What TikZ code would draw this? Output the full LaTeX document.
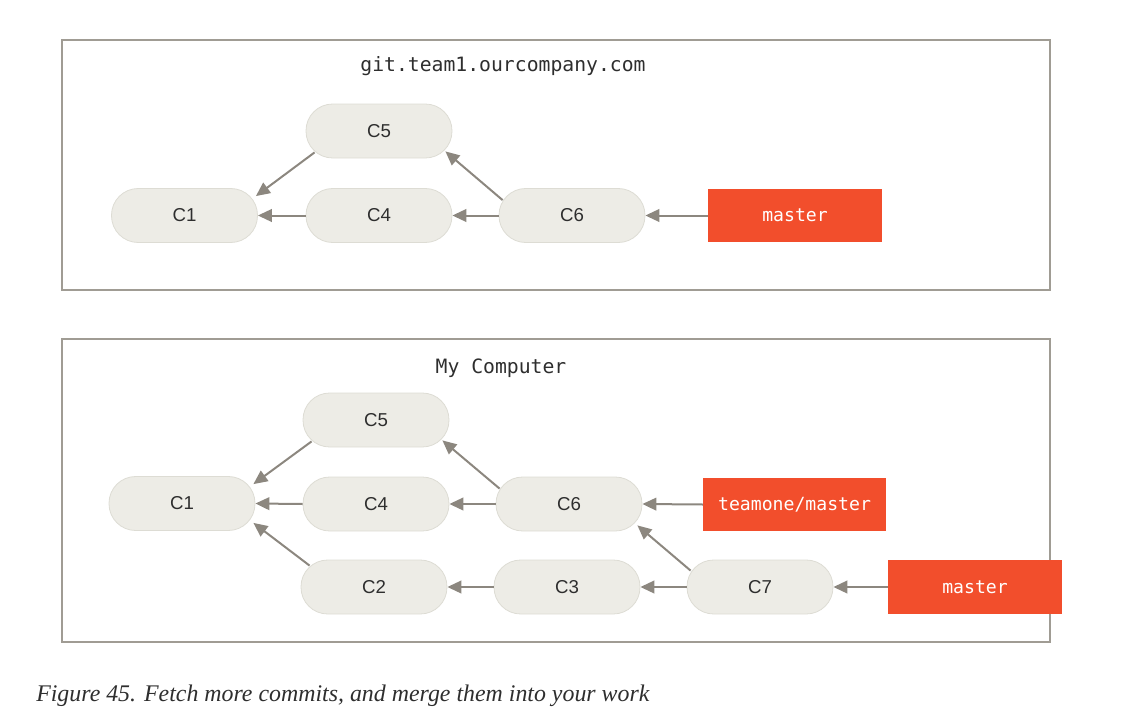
\documentclass[tikz,border=0pt]{standalone}
\usepackage{fontspec}
\setmainfont{Liberation Serif}
\newfontfamily\monofont{DejaVu Sans Mono}
\newfontfamily\commitfont{Liberation Sans}
\usetikzlibrary{calc,arrows.meta}
\definecolor{commitfill}{HTML}{EDECE6}
\definecolor{commitline}{HTML}{DDDCD4}
\definecolor{arrowgray}{HTML}{8C877F}
\definecolor{framegray}{HTML}{A09C94}
\definecolor{branchred}{HTML}{F24E2C}
\definecolor{textdark}{HTML}{2E2E2E}
\begin{document}
\begin{tikzpicture}[x=0.75pt,y=-0.75pt,
  commit/.style={draw=commitline,line width=0.6pt,fill=commitfill,rounded corners=20pt,
    minimum width=109.5pt,minimum height=40.5pt,inner sep=0pt,
    font=\commitfont\fontsize{14pt}{16pt}\selectfont,text=textdark},
  branch/.style={fill=branchred,inner sep=0pt,minimum height=40pt,
    font=\monofont\fontsize{13.6pt}{16pt}\selectfont,text=white},
  frame/.style={draw=framegray,line width=1.5pt},
  title/.style={font=\monofont\fontsize{14.8pt}{17pt}\selectfont,text=textdark},
  link/.style={draw=arrowgray,line width=1.5pt,-{Triangle[length=10.5pt,width=9.5pt]}}]
\useasboundingbox (0,0) rectangle (1138,717);
% frames
\node[frame,minimum width=741pt,minimum height=187.5pt,inner sep=0pt] (F1) at (556,165) {};
\node[frame,minimum width=741pt,minimum height=227.25pt,inner sep=0pt] (F2) at (556,490.5) {};
\node[title] (T1) at (503,66) {git.team1.ourcompany.com};
\node[title] (T2) at (501,368) {My Computer};
% top commits
\node[commit] (a5) at (379,131) {C5};
\node[commit] (a1) at (184.5,215.5) {C1};
\node[commit] (a4) at (379,215.5) {C4};
\node[commit] (a6) at (572,215.5) {C6};
\node[branch,minimum width=130.5pt] (am) at (795,215.5) {master};
\draw[link] (a4.west) -- (a1.east);
\draw[link] (a6.west) -- (a4.east);
\draw[link] (am.west) -- (a6.east);
\draw[link] ($(a5.south west)+(9,-6)$) -- ($(a1.north east)+(-2,8)$);
\draw[link] ($(a6.north west)+(4,12)$) -- ($(a5.south east)+(-7,-7)$);
% bottom commits
\node[commit] (b5) at (376,420) {C5};
\node[commit] (b1) at (182,503.5) {C1};
\node[commit] (b4) at (376,504) {C4};
\node[commit] (b6) at (569,504) {C6};
\node[commit] (b2) at (374,587) {C2};
\node[commit] (b3) at (567,587) {C3};
\node[commit] (b7) at (760,587) {C7};
\node[branch,minimum width=137pt] (bt) at (794.5,504.5) {teamone/master};
\node[branch,minimum width=130.5pt] (bm) at (975,587) {master};
\draw[link] (b4.west) -- (b1.east);
\draw[link] (b6.west) -- (b4.east);
\draw[link] (bt.west) -- (b6.east);
\draw[link] (b3.west) -- (b2.east);
\draw[link] (b7.west) -- (b3.east);
\draw[link] (bm.west) -- (b7.east);
\draw[link] ($(b5.south west)+(9,-6)$) -- ($(b1.north east)+(-2,8)$);
\draw[link] ($(b6.north west)+(4,12)$) -- ($(b5.south east)+(-7,-7)$);
\draw[link] ($(b2.north west)+(9,6)$) -- ($(b1.south east)+(-2,-8)$);
\draw[link] ($(b7.north west)+(4,11)$) -- ($(b6.south east)+(-5,-6)$);
% caption
\node[anchor=base west,inner sep=0pt,font=\itshape\fontsize{17.9pt}{20pt}\selectfont,text=textdark] (cap) at (36,701) {Figure 45. Fetch more commits, and merge them into your work};
\end{tikzpicture}
\end{document}
